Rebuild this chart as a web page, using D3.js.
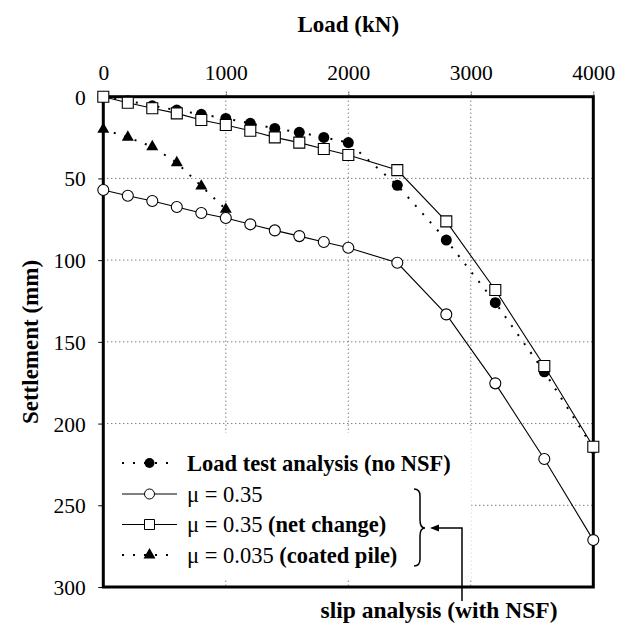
<!DOCTYPE html>
<html><head><meta charset="utf-8">
<script src="https://cdn.jsdelivr.net/npm/d3@7"></script>
<style>body{margin:0;background:#fff}svg{display:block}text{font-family:"Liberation Serif","Times New Roman",serif;fill:#000}</style>
</head><body>
<svg id="c" width="627" height="626"></svg>
<script>
const loads = [0,200,400,600,800,1000,1200,1400,1600,1800,2000,2400,2800,3200,3600,4000];
const loadTest = [0,2.5,5.6,8.2,10.8,13.3,16.3,19.4,21.8,24.9,28.1,54.2,87.7,126,168.3,215];
const mu035 = [57.1,60.6,63.8,67.5,71.2,74.2,78.1,81.8,85.3,88.9,92.4,101.6,133.2,175.4,221.7,271.3];
const netChange = [0,3.7,7.1,10.2,14.3,17.3,20.8,24.9,28.1,32,35.7,44.9,76.3,118.3,164.8,214.2];
const coatedLoads = [0,200,400,600,800,1000];
const coated = [20,24.8,30.6,40.4,54.7,68.9];
const xTicks = [0,1000,2000,3000,4000];
const yTicks = [0,50,100,150,200,250,300];
const legendLabels = [
  [["Load test analysis (no NSF)",true]],
  [["\u03bc = 0.35",false]],
  [["\u03bc = 0.35 ",false],["(net change)",true]],
  [["\u03bc = 0.035 ",false],["(coated pile)",true]]
];

const svg = d3.select("#c");
const L=103.3, R=593.3, T=96.7, B=587;
const x = d3.scaleLinear().domain([0,4000]).range([L,R]);
const y = d3.scaleLinear().domain([0,300]).range([T,B]);

// grid
const g = svg.append("g");
g.selectAll(".vg").data([1000,2000,3000]).join("line")
  .attr("x1",d=>x(d)).attr("x2",d=>x(d)).attr("y1",T).attr("y2",B)
  .attr("stroke","#444").attr("stroke-width",1).attr("stroke-dasharray","1,3");
g.selectAll(".hg").data([50,100,150,200,250]).join("line")
  .attr("y1",d=>y(d)).attr("y2",d=>y(d)).attr("x1",L).attr("x2",R)
  .attr("stroke","#444").attr("stroke-width",1).attr("stroke-dasharray","1,3");

// legend background
svg.append("rect").attr("x",L+2).attr("y",433).attr("width",366).attr("height",145).attr("fill","#fff");

// axes
const xAxis = d3.axisTop(x).tickValues(xTicks).tickSize(5).tickFormat(d3.format("d"));
const ax = svg.append("g").attr("transform",`translate(0,${T})`).call(xAxis);
ax.select(".domain").remove();
ax.selectAll(".tick line").attr("stroke","#000").attr("stroke-dasharray","1,1");
ax.selectAll(".tick text").attr("font-size",21.5).attr("dy",0).attr("y",-16.5).style("font-family","Liberation Serif");
const yAxis = d3.axisLeft(y).tickValues(yTicks).tickSize(5);
const ay = svg.append("g").attr("transform",`translate(${L},0)`).call(yAxis);
ay.select(".domain").remove();
ay.selectAll(".tick line").attr("stroke","#000");
ay.selectAll(".tick text").attr("font-size",21.5).attr("x",-17.5).attr("dy","0.35em").style("font-family","Liberation Serif");

// frame
svg.append("rect").attr("x",L).attr("y",T).attr("width",R-L).attr("height",B-T)
  .attr("fill","none").attr("stroke","#000").attr("stroke-width",3);

// titles
svg.append("text").attr("x",(L+R)/2).attr("y",32).attr("text-anchor","middle")
  .attr("font-size",23).attr("font-weight","bold").text("Load (kN)");
svg.append("text").attr("transform",`translate(38,342) rotate(-90)`).attr("text-anchor","middle")
  .attr("font-size",23).attr("font-weight","bold").text("Settlement (mm)");

const line = d3.line().x(d=>x(d[0])).y(d=>y(d[1]));
const zip = (a,b)=>a.map((v,i)=>[v,b[i]]);
const ltData = zip(loads,loadTest), muData = zip(loads,mu035), ncData = zip(loads,netChange), cpData = zip(coatedLoads,coated);

const dotted = {stroke:"#000","stroke-width":2,"stroke-dasharray":"2,9",fill:"none"};
const solid = {stroke:"#000","stroke-width":1.1,fill:"none"};
function applyAttrs(sel,o){for(const k in o) sel.attr(k,o[k]); return sel;}

applyAttrs(svg.append("path").attr("d",line(ltData)),dotted);
applyAttrs(svg.append("path").attr("d",line(cpData)),dotted);
applyAttrs(svg.append("path").attr("d",line(muData)),solid);
applyAttrs(svg.append("path").attr("d",line(ncData)),solid);

const tri = d3.symbol(d3.symbolTriangle).size(62)();
const sq = d3.symbol(d3.symbolSquare).size(121)();

svg.selectAll(".lt").data(ltData).join("circle").attr("cx",d=>x(d[0])).attr("cy",d=>y(d[1])).attr("r",5.5).attr("fill","#000");
svg.selectAll(".cp").data(cpData).join("path").attr("d",tri).attr("transform",d=>`translate(${x(d[0])},${y(d[1])})`).attr("fill","#000");
svg.selectAll(".mu").data(muData).join("circle").attr("cx",d=>x(d[0])).attr("cy",d=>y(d[1])).attr("r",5.5).attr("fill","#fff").attr("stroke","#000").attr("stroke-width",1.1);
svg.selectAll(".nc").data(ncData).join("path").attr("d",sq).attr("transform",d=>`translate(${x(d[0])},${y(d[1])})`).attr("fill","#fff").attr("stroke","#000").attr("stroke-width",1.1);

// legend
const ly = [463,494,524.5,555];
const lx1=122, lx2=177, lxm=149.5, tx=187;
applyAttrs(svg.append("line").attr("x1",lx1).attr("x2",lx2).attr("y1",ly[0]).attr("y2",ly[0]),dotted);
svg.append("circle").attr("cx",lxm).attr("cy",ly[0]).attr("r",5).attr("fill","#000");
applyAttrs(svg.append("line").attr("x1",lx1).attr("x2",lx2).attr("y1",ly[1]).attr("y2",ly[1]),solid);
svg.append("circle").attr("cx",lxm).attr("cy",ly[1]).attr("r",5).attr("fill","#fff").attr("stroke","#000");
applyAttrs(svg.append("line").attr("x1",lx1).attr("x2",lx2).attr("y1",ly[2]).attr("y2",ly[2]),solid);
svg.append("path").attr("d",d3.symbol(d3.symbolSquare).size(100)()).attr("transform",`translate(${lxm},${ly[2]})`).attr("fill","#fff").attr("stroke","#000");
applyAttrs(svg.append("line").attr("x1",lx1).attr("x2",lx2-8).attr("y1",ly[3]).attr("y2",ly[3]),dotted);
svg.append("path").attr("d",tri).attr("transform",`translate(${lxm},${ly[3]})`).attr("fill","#000");

legendLabels.forEach((parts,i)=>{
  const t = svg.append("text").attr("x",tx).attr("y",ly[i]).attr("dy","0.35em").attr("font-size",22.5);
  parts.forEach(p=>t.append("tspan").attr("font-weight",p[1]?"bold":"normal").text(p[0]));
});

// brace
svg.append("path").attr("d","M414,489 Q420,489 420,496 L420,520 Q420,528 425,528 Q420,528 420,536 L420,559 Q420,566 414,566")
  .attr("fill","none").attr("stroke","#000").attr("stroke-width",1.5);
// arrow
svg.append("path").attr("d","M462,601 L462,528 L437,528").attr("fill","none").attr("stroke","#000").attr("stroke-width",1.5);
svg.append("path").attr("d","M430,528 L439,524.5 L439,531.5 Z").attr("fill","#000");
svg.append("text").attr("x",439).attr("y",618).attr("text-anchor","middle").attr("font-size",23.5).attr("font-weight","bold").text("slip analysis (with NSF)");
</script>
</body></html>
